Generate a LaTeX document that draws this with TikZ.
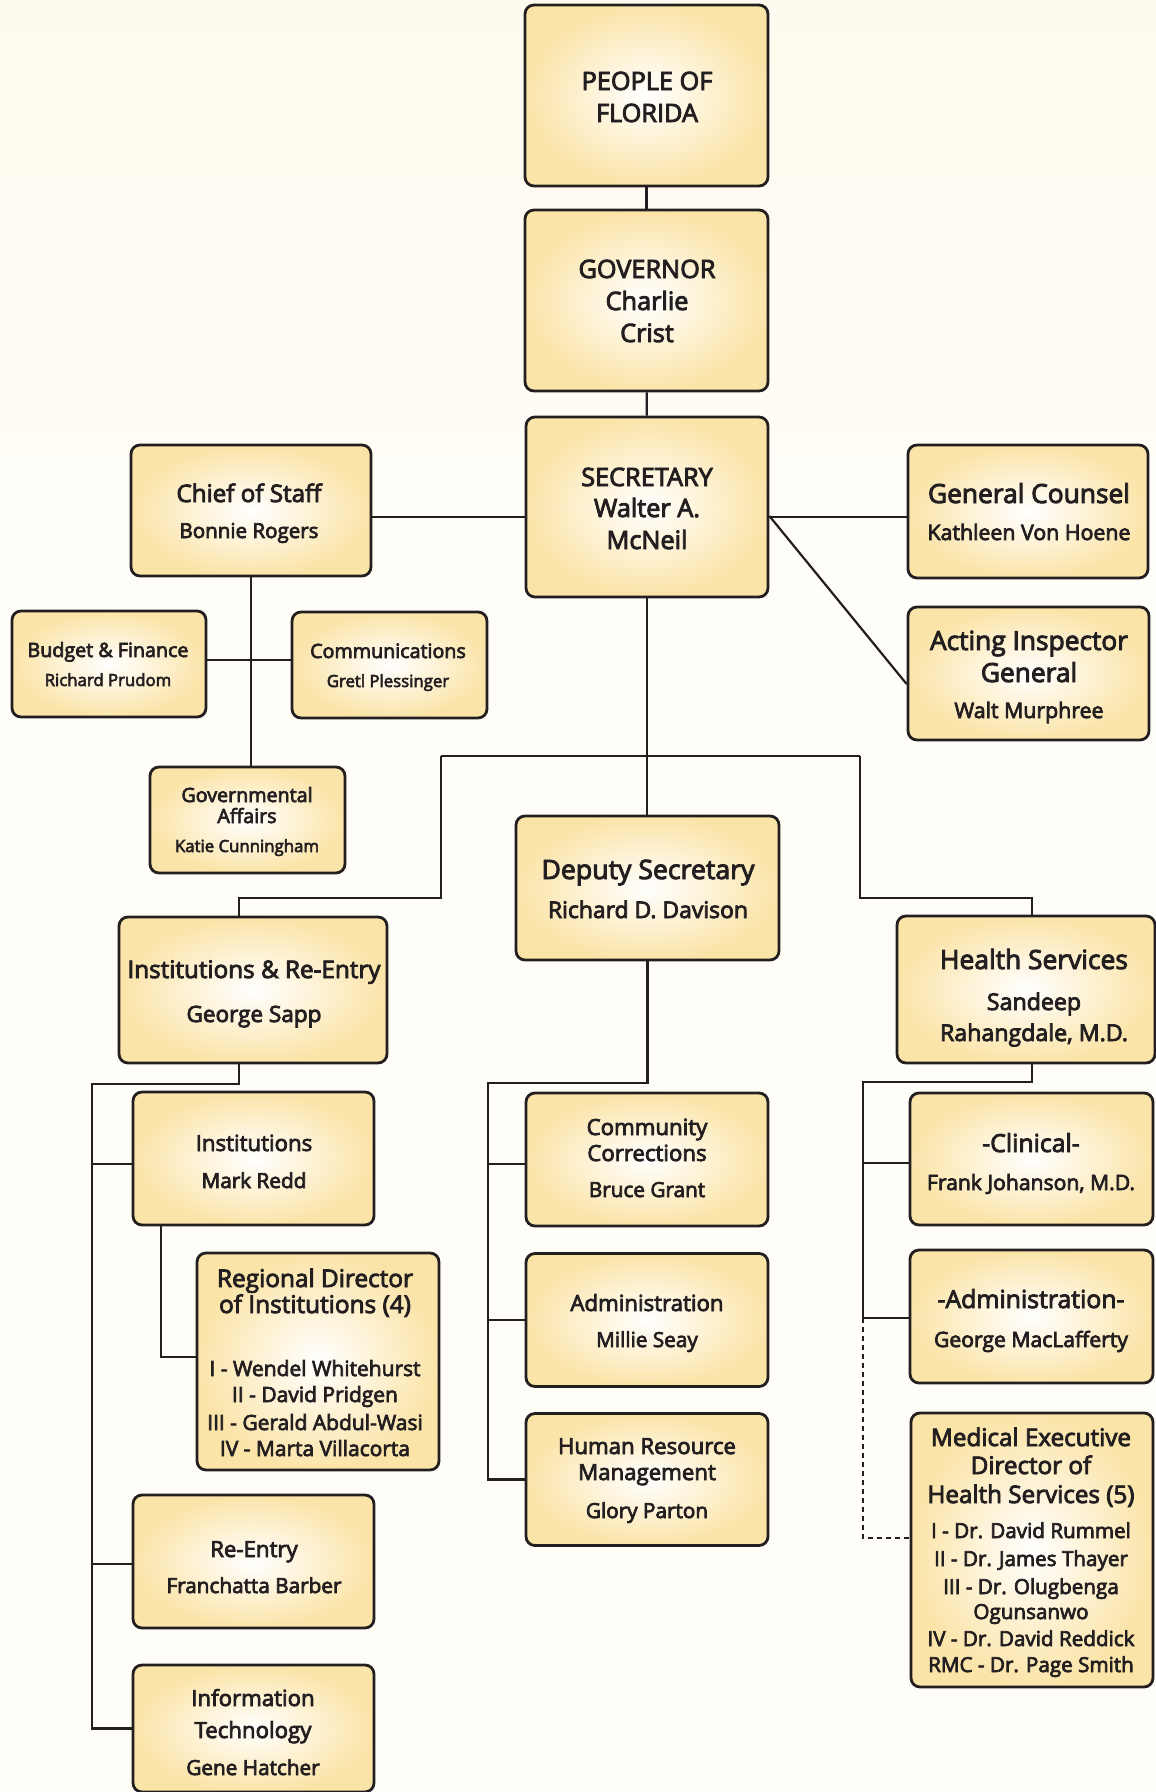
\documentclass[tikz,border=0pt]{standalone}
\usepackage{fontspec}
\newfontfamily\orgfont[FakeBold=3.5]{Open Sans}
\definecolor{txt}{RGB}{35,31,32}
\definecolor{boxy}{RGB}{251,228,168}
\definecolor{bgT}{RGB}{254,240,204}
\definecolor{bgT2}{RGB}{255,248,230}
\definecolor{bgM}{RGB}{255,253,248}
\definecolor{bgB}{RGB}{255,247,226}
\pgfdeclareverticalshading{bgsh}{100bp}{color(0bp)=(bgB); color(25bp)=(bgM); color(60bp)=(bgM); color(88bp)=(bgT2); color(100bp)=(bgT)}
\newlength\mytmpw
\newcommand\fitfs[3]{\settowidth\mytmpw{\orgfont\fontsize{20}{20}\selectfont #3}\pgfmathsetmacro\tmpfs{20*#2/\mytmpw}\expandafter\xdef\csname fs#1\endcsname{\tmpfs}}
\newcommand\usefs[1]{\edef\myfs{\csname fs#1\endcsname}}
\newcommand\tl[4]{\node[tx,font=\orgfont\fontsize{\myfs}{\myfs}\selectfont] (#1) at (#2,#3) {#4};}
\tikzset{
  orgbox/.style={draw=txt, line width=2.8pt, rounded corners=9pt, inner color=white, outer color=boxy, inner sep=0pt},
  tx/.style={anchor=base, inner sep=0pt, text=txt},
  conn/.style={draw=txt, line width=2.2pt},
  dconn/.style={draw=txt, line width=2pt, dash pattern=on 5pt off 4pt}
}
\begin{document}
\fitfs{A}{137}{GOVERNOR}%
\fitfs{B}{145}{Chief of Staff}%
\fitfs{C}{139}{Bonnie Rogers}%
\fitfs{D}{202}{General Counsel}%
\fitfs{E}{203}{Kathleen Von Hoene}%
\fitfs{F}{161}{Budget \& Finance}%
\fitfs{G}{144}{Katie Cunningham}%
\fitfs{H}{213}{Deputy Secretary}%
\fitfs{I}{200}{Richard D. Davison}%
\fitfs{J}{253}{Institutions \& Re-Entry}%
\fitfs{K}{135}{George Sapp}%
\fitfs{L}{188}{Health Services}%
\fitfs{M}{188}{Rahangdale, M.D.}%
\fitfs{N}{178}{Human Resource}%
\fitfs{O}{175}{Franchatta Barber}%
\fitfs{P}{196}{Regional Director}%
\fitfs{Q}{211}{I - Wendel Whitehurst}%
\fitfs{R}{187}{-Administration-}%
\fitfs{S}{208}{Frank Johanson, M.D.}%
\fitfs{T}{207}{Health Services (5)}%
\fitfs{U}{207}{IV - Dr. David Reddick}%
\begin{tikzpicture}[x=1pt,y=-1pt]
\useasboundingbox (0,0) rectangle (1156,1792);
\fill[shading=bgsh] (0,0) rectangle (1156,1792);
% boxes
\node[orgbox, minimum width=243, minimum height=181] (people) at (646.5,95.5) {};
\node[orgbox, minimum width=243, minimum height=181] (gov) at (646.5,300.5) {};
\node[orgbox, minimum width=242, minimum height=180] (sec) at (647,507) {};
\node[orgbox, minimum width=240, minimum height=131] (cos) at (251,510.5) {};
\node[orgbox, minimum width=194, minimum height=106] (budget) at (109,664) {};
\node[orgbox, minimum width=195, minimum height=106] (comm) at (389.5,665) {};
\node[orgbox, minimum width=195, minimum height=106] (gaff) at (247.5,820) {};
\node[orgbox, minimum width=240, minimum height=133] (gc) at (1028,511.5) {};
\node[orgbox, minimum width=241, minimum height=133] (aig) at (1028.5,673.5) {};
\node[orgbox, minimum width=263, minimum height=144] (deputy) at (647.5,888) {};
\node[orgbox, minimum width=268, minimum height=146] (ire) at (253,990) {};
\node[orgbox, minimum width=258, minimum height=147] (health) at (1026,989.5) {};
\node[orgbox, minimum width=241, minimum height=133] (inst) at (253.5,1158.5) {};
\node[orgbox, minimum width=242, minimum height=217] (regional) at (318,1361.5) {};
\node[orgbox, minimum width=241, minimum height=133] (reentry) at (253.5,1561.5) {};
\node[orgbox, minimum width=241, minimum height=127] (it) at (253.5,1728.5) {};
\node[orgbox, minimum width=242, minimum height=133] (cc) at (647,1159.5) {};
\node[orgbox, minimum width=242, minimum height=133] (admin) at (647,1320) {};
\node[orgbox, minimum width=242, minimum height=132] (hr) at (647,1479.5) {};
\node[orgbox, minimum width=243, minimum height=132] (clinical) at (1031.5,1159) {};
\node[orgbox, minimum width=243, minimum height=133] (hadmin) at (1031.5,1316.5) {};
\node[orgbox, minimum width=242, minimum height=274] (medical) at (1032,1550) {};
% connectors
\coordinate (yA) at (0,517);
\coordinate (yB) at (0,660);
\coordinate (bL) at (441,756);
\coordinate (bR) at (860,756);
\coordinate (bLL) at (441,898);
\coordinate (bRR) at (860,898);
\coordinate (tL) at (92,1084);
\coordinate (yInst) at (0,1164);
\coordinate (yReg) at (0,1357);
\coordinate (yRe) at (0,1564);
\coordinate (tM) at (488,1083);
\coordinate (yCC) at (0,1164);
\coordinate (tR) at (863,1082);
\coordinate (yCl) at (0,1163);
\coordinate (yHa) at (0,1318);
\coordinate (yMed) at (0,1538);
\draw[conn] (people) -- (gov);
\draw[conn] (gov) -- (sec);
\draw[conn] (cos.east |- yA) -- (sec.west |- yA);
\draw[conn] (sec.east |- yA) -- (gc.west |- yA);
\draw[conn] ([yshift=1]sec.east |- yA) -- ([yshift=-10.5]aig.west);
\draw[conn] (cos.south) -- (cos.south |- gaff.north);
\draw[conn] (budget.east |- yB) -- (comm.west |- yB);
\draw[conn] (sec.south) -- (sec.south |- deputy.north);
\draw[conn] (bL) -- (bR);
\draw[conn] (bL) -- (bLL) -| ([xshift=-14]ire.north);
\draw[conn] (bR) -- (bRR) -| ([xshift=6]health.north);
\draw[conn] ([xshift=-14]ire.south) |- (tL) |- (it.west);
\draw[conn] (tL |- yInst) -- (inst.west |- yInst);
\draw[conn] (tL |- yRe) -- (reentry.west |- yRe);
\draw[conn] ([xshift=-92.5]inst.south) |- (regional.west |- yReg);
\draw[conn] (deputy.south) |- (tM) |- (hr.west);
\draw[conn] (tM |- yCC) -- (cc.west |- yCC);
\draw[conn] (tM |- admin.west) -- (admin.west);
\draw[conn] ([xshift=6]health.south) |- (tR) |- (hadmin.west |- yHa);
\draw[conn] (tR |- yCl) -- (clinical.west |- yCl);
\draw[dconn] (tR |- yHa) |- (medical.west |- yMed);
% texts
\usefs{A}
\tl{people1}{647}{90}{PEOPLE OF}
\tl{people2}{647}{122}{FLORIDA}
\tl{gov1}{647}{278}{GOVERNOR}
\tl{gov2}{647}{310}{Charlie}
\tl{gov3}{647}{342}{Crist}
\tl{sec1}{647}{486}{SECRETARY}
\tl{sec2}{647}{517}{Walter A.}
\tl{sec3}{647}{549}{McNeil}
\usefs{B}
\tl{cos1}{249}{502}{Chief of Staff}
\usefs{C}
\tl{cos2}{249}{538}{Bonnie Rogers}
\usefs{D}
\tl{gc1}{1029}{503}{General Counsel}
\tl{aig1}{1029}{650}{Acting Inspector}
\tl{aig2}{1029}{682}{General}
\usefs{E}
\tl{gc2}{1029}{540}{Kathleen Von Hoene}
\tl{aig3}{1029}{718}{Walt Murphree}
\usefs{F}
\tl{bud1}{108}{657}{Budget \& Finance}
\tl{com1}{388}{658}{Communications}
\tl{gaf1}{247}{802}{Governmental}
\tl{gaf2}{247}{823}{Affairs}
\usefs{G}
\tl{bud2}{108}{686}{Richard Prudom}
\tl{com2}{388}{687}{Gretl Plessinger}
\tl{gaf3}{247}{852}{Katie Cunningham}
\usefs{H}
\tl{dep1}{648}{879}{Deputy Secretary}
\usefs{I}
\tl{dep2}{648}{918}{Richard D. Davison}
\usefs{J}
\tl{ire1}{254}{978}{Institutions \& Re-Entry}
\usefs{K}
\tl{ire2}{254}{1022}{George Sapp}
\usefs{L}
\tl{hs1}{1034}{969}{Health Services}
\usefs{M}
\tl{hs2}{1034}{1010}{Sandeep}
\tl{hs3}{1034}{1041}{Rahangdale, M.D.}
\usefs{N}
\tl{ins1}{254}{1151}{Institutions}
\tl{ree1}{254}{1557}{Re-Entry}
\tl{it1}{253}{1706}{Information}
\tl{it2}{253}{1738}{Technology}
\tl{cc1}{647}{1135}{Community}
\tl{cc2}{647}{1161}{Corrections}
\tl{adm1}{647}{1311}{Administration}
\tl{hr1}{647}{1454}{Human Resource}
\tl{hr2}{647}{1480}{Management}
\usefs{O}
\tl{ins2}{254}{1188}{Mark Redd}
\tl{ree2}{254}{1593}{Franchatta Barber}
\tl{it3}{253}{1775}{Gene Hatcher}
\tl{cc3}{647}{1197}{Bruce Grant}
\tl{adm2}{647}{1347}{Millie Seay}
\tl{hr3}{647}{1518}{Glory Parton}
\usefs{P}
\tl{reg1}{315}{1287}{Regional Director}
\tl{reg2}{315}{1313}{of Institutions (4)}
\usefs{Q}
\tl{reg3}{315}{1376}{I - Wendel Whitehurst}
\tl{reg4}{315}{1402}{II - David Pridgen}
\tl{reg5}{315}{1430}{III - Gerald Abdul-Wasi}
\tl{reg6}{315}{1456}{IV - Marta Villacorta}
\usefs{R}
\tl{cl1}{1031}{1152}{-Clinical-}
\tl{ha1}{1031}{1308}{-Administration-}
\usefs{S}
\tl{cl2}{1031}{1190}{Frank Johanson, M.D.}
\tl{ha2}{1031}{1347}{George MacLafferty}
\usefs{T}
\tl{med1}{1031}{1446}{Medical Executive}
\tl{med2}{1031}{1474}{Director of}
\tl{med3}{1031}{1503}{Health Services (5)}
\usefs{U}
\tl{med4}{1031}{1538}{I - Dr. David Rummel}
\tl{med5}{1031}{1566}{II - Dr. James Thayer}
\tl{med6}{1031}{1594}{III - Dr. Olugbenga}
\tl{med7}{1031}{1619}{Ogunsanwo}
\tl{med8}{1031}{1646}{IV - Dr. David Reddick}
\tl{med9}{1031}{1672}{RMC - Dr. Page Smith}
\end{tikzpicture}
\end{document}
